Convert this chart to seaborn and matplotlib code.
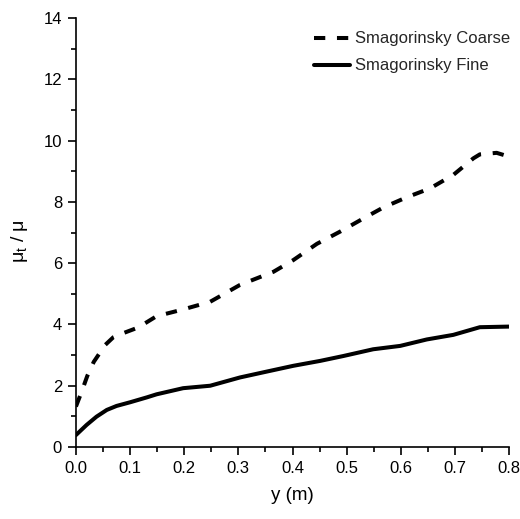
import matplotlib
matplotlib.use("Agg")
import matplotlib.pyplot as plt
import seaborn as sns
import pandas as pd
from matplotlib.ticker import MultipleLocator

sns.set_theme(style="ticks")
plt.rcParams['font.family'] = ['Liberation Sans', 'DejaVu Sans']

coarse_x = [0.0, 0.0105, 0.021, 0.033, 0.054, 0.069, 0.085, 0.1, 0.115, 0.149, 0.198, 0.248, 0.303,
            0.365, 0.4015, 0.445, 0.488, 0.531, 0.568, 0.611, 0.654, 0.697, 0.734,
            0.746, 0.777, 0.79, 0.8]
coarse_y = [1.32, 1.8, 2.32, 2.78, 3.33, 3.58, 3.7, 3.8, 3.9, 4.27, 4.49, 4.74, 5.29,
            5.72, 6.1, 6.63, 7.03, 7.46, 7.82, 8.15, 8.44, 8.88, 9.42,
            9.55, 9.6, 9.53, 9.5]
fine_x = [0.0, 0.0197, 0.038, 0.057, 0.075, 0.1, 0.131, 0.149, 0.198, 0.248, 0.303, 0.352,
          0.4015, 0.451, 0.494, 0.549, 0.599, 0.648, 0.697, 0.746, 0.8]
fine_y = [0.39, 0.72, 0.99, 1.21, 1.34, 1.46, 1.62, 1.72, 1.92, 2.0, 2.27, 2.46,
          2.65, 2.81, 2.97, 3.19, 3.3, 3.51, 3.66, 3.91, 3.93]
series_names = ["Smagorinsky Coarse", "Smagorinsky Fine"]

df = pd.concat([
    pd.DataFrame({"y": coarse_x, "ratio": coarse_y, "series": series_names[0]}),
    pd.DataFrame({"y": fine_x, "ratio": fine_y, "series": series_names[1]}),
])

fig = plt.figure(figsize=(5.2, 5.19), dpi=100)
ax = fig.add_axes([0.146, 0.1387, 0.833, 0.8266])

sns.lineplot(data=df, x="y", y="ratio", style="series", style_order=series_names,
             dashes={series_names[0]: (2.8, 2.9), series_names[1]: ""},
             color="black", linewidth=2.9, sort=False, estimator=None, ax=ax)

for ln in ax.lines:
    ln.set_dash_capstyle("butt")
    ln.set_solid_joinstyle("round")
    ln.set_dash_joinstyle("round")

ax.set_xlim(0, 0.8)
ax.set_ylim(0, 14)
ax.xaxis.set_major_locator(MultipleLocator(0.1))
ax.xaxis.set_minor_locator(MultipleLocator(0.05))
ax.yaxis.set_major_locator(MultipleLocator(2))
ax.yaxis.set_minor_locator(MultipleLocator(1))
ax.set_xticks([0.0, 0.1, 0.2, 0.3, 0.4, 0.5, 0.6, 0.7, 0.8])
ax.set_xticklabels(["0.0", "0.1", "0.2", "0.3", "0.4", "0.5", "0.6", "0.7", "0.8"])
ax.tick_params(which="major", direction="out", length=6, width=1.2, labelsize=12,
               color="black", labelcolor="black", pad=4)
ax.tick_params(which="minor", direction="out", length=3.5, width=1.2, color="black")
for s in ["top", "right"]:
    ax.spines[s].set_visible(False)
for s in ["left", "bottom"]:
    ax.spines[s].set_linewidth(1.2)
    ax.spines[s].set_color("black")

ax.set_xlabel("y (m)", fontsize=13.5, labelpad=8, color="black")
ax.set_ylabel(r"$\mathregular{\mu_t}$ / $\mathregular{\mu}$", fontsize=14, color="black")
ax.yaxis.set_label_coords(-0.105, 0.48)

leg = ax.legend(loc="upper right", bbox_to_anchor=(1.033, 1.0), frameon=False,
                fontsize=12, handlelength=2.15, handletextpad=0.3, labelspacing=0.72,
                borderpad=0.3, title=None)
for h in leg.get_lines():
    h.set_linewidth(2.9)

fig.savefig("out.png", dpi=100)
